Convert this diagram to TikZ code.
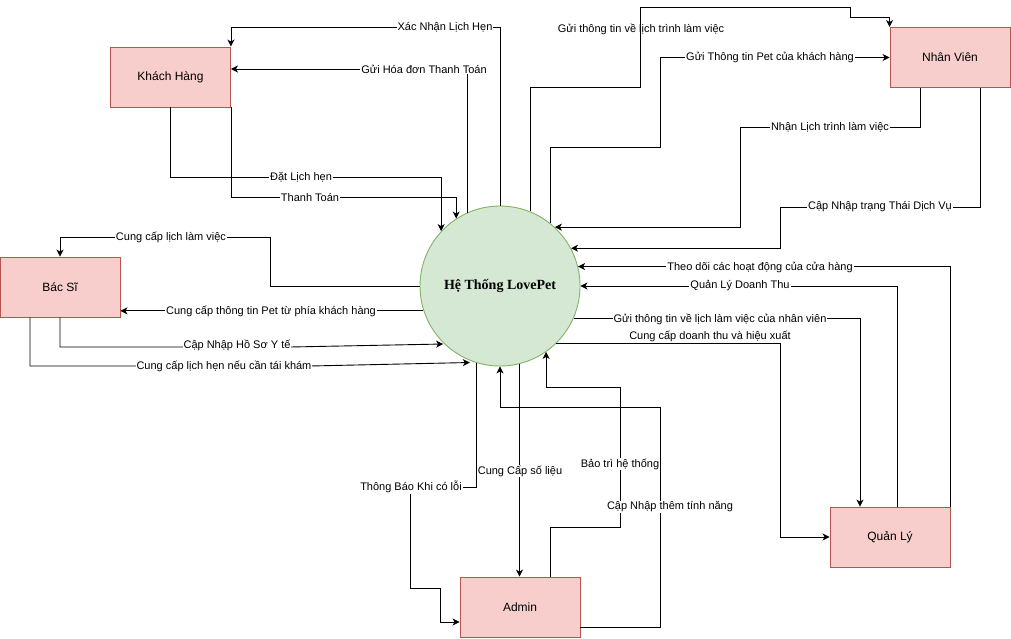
\documentclass[tikz,border=0pt]{standalone}
\usepackage{fontspec}
\setmainfont{Liberation Sans}
\newfontfamily\hubfont{Liberation Serif}
\usepackage{tikz}
\usetikzlibrary{arrows.meta}
\definecolor{boxfill}{HTML}{F8CECC}
\definecolor{boxline}{HTML}{B85450}
\definecolor{hubfill}{HTML}{D5E8D4}
\definecolor{hubline}{HTML}{82B366}

\begin{document}
\begin{tikzpicture}[x=1pt,y=-1pt,>={Stealth[length=7pt,width=7pt,inset=2pt]},
  entity/.style={rectangle,draw=boxline,fill=boxfill,line width=0.9pt,minimum width=120pt,minimum height=60pt,inner sep=0pt,font=\fontsize{12}{14}\selectfont},
  hub/.style={circle,draw=hubline,fill=hubfill,line width=0.9pt,minimum size=160pt,inner sep=0pt,font=\hubfont\bfseries\fontsize{14}{16}\selectfont},
  flow/.style={->,line width=0.9pt},
  lbl/.style={fill=white,inner sep=1pt,font=\fontsize{11}{13}\selectfont},
  lblclear/.style={lbl,fill=none}]
  \useasboundingbox (0,0) rectangle (1011,638);
  \node[hub] (hs) at (500,286) {Hệ Thống LovePet};
  \node[entity] (kh) at (170.5,77) {Khách Hàng};
  \node[entity] (nv) at (950,57.5) {Nhân Viên};
  \node[entity] (bs) at (60,287) {Bác Sĩ};
  \node[entity] (ad) at (520,607) {Admin};
  \node[entity] (ql) at (890,537) {Quản Lý};
  \draw[flow] (hs.north) -- (hs.north |- 0,27) -| (kh.north east);
  \draw[flow] (hs.114) -- (hs.114 |- 0,69) -- (kh.east |- 0,69);
  \draw[flow] (kh.south) |- (hs.137 |- 0,177) -- (hs.137);
  \draw[flow] (kh.south east) |- (hs.123 |- 0,197) -- (hs.123);
  \draw[flow] (hs.68) |- (640,87) -- (640,7) -- (850,7) -- (850,17) -| (nv.north west);
  \draw[flow] (hs.51) |- (660,147) |- (nv.west);
  \draw[flow] (nv.south -| 920,0) |- (740,127) |- (hs.47);
  \draw[flow] (nv.south -| 980,0) |- (780,207) |- (hs.28);
  \draw[flow] (ql.north east) |- (hs.14);
  \draw[flow] (ql.north -| 897,0) |- (hs.east);
  \draw[flow] (hs.336) -| (ql.north -| 860,0);
  \draw[flow] (hs.314) -| (780,537) -- (ql.west);
  \draw[flow] (hs.west) -| (270,237) -| (bs.north);
  \draw[flow] (hs.198) -- (bs.east |- hs.198);
  \draw[flow] (bs.south) |- (290,347) -- (hs.225 |- 0,344);
  \draw[flow] (bs.south -| 30,0) |- (310,366) -- (hs.248 |- 0,362.5);
  \draw[flow] (hs.253) |- (410,487) |- (440,588) |- (ad.west |- 0,622);
  \draw[flow] (hs.284) -- (hs.284 |- ad.north);
  \draw[flow] (ad.north -| 550,0) |- (620,527) -- (620,387) -| (hs.305);
  \draw[flow] (ad.east |- 0,627) -| (660,407) -| (hs.south);
  \node[lbl] (l1) at (445,27) {Xác Nhận Lịch Hẹn};
  \node[lbl] (l2) at (424,69) {Gửi Hóa đơn Thanh Toán};
  \node[lbl] (l3) at (301,177) {Đặt Lịch hẹn};
  \node[lbl] (l4) at (310,197) {Thanh Toán};
  \node[lblclear] (l5) at (641,29) {Gửi thông tin về lịch trình làm việc};
  \node[lbl] (l6) at (770,57) {Gửi Thông tin Pet của khách hàng};
  \node[lbl] (l7) at (830,127) {Nhận Lịch trình làm việc};
  \node[lbl] (l8) at (880,207) {Cập Nhập trạng Thái Dịch Vụ};
  \node[lbl] (l9) at (760,267) {Theo dõi các hoạt động của cửa hàng};
  \node[lbl] (l10) at (740,286) {Quản Lý Doanh Thu};
  \node[lbl] (l11) at (720,319) {Gửi thông tin về lịch làm việc của nhân viên};
  \node[lbl] (l12) at (710,336) {Cung cấp doanh thu và hiệu xuất};
  \node[lbl] (l13) at (171,237) {Cung cấp lịch làm việc};
  \node[lbl] (l14) at (271,311) {Cung cấp thông tin Pet từ phía khách hàng};
  \node[lbl] (l15) at (237,345) {Cập Nhập Hồ Sơ Y tế};
  \node[lbl] (l16) at (224,366) {Cung cấp lịch hẹn nếu cần tái khám};
  \node[lbl] (l17) at (411,487) {Thông Báo Khi có lỗi};
  \node[lbl] (l18) at (520,471) {Cung Cấp số liệu};
  \node[lbl] (l19) at (620,464) {Bảo trì hệ thống};
  \node[lbl] (l20) at (670,507) {Cập Nhập thêm tính năng};
\end{tikzpicture}
\end{document}
